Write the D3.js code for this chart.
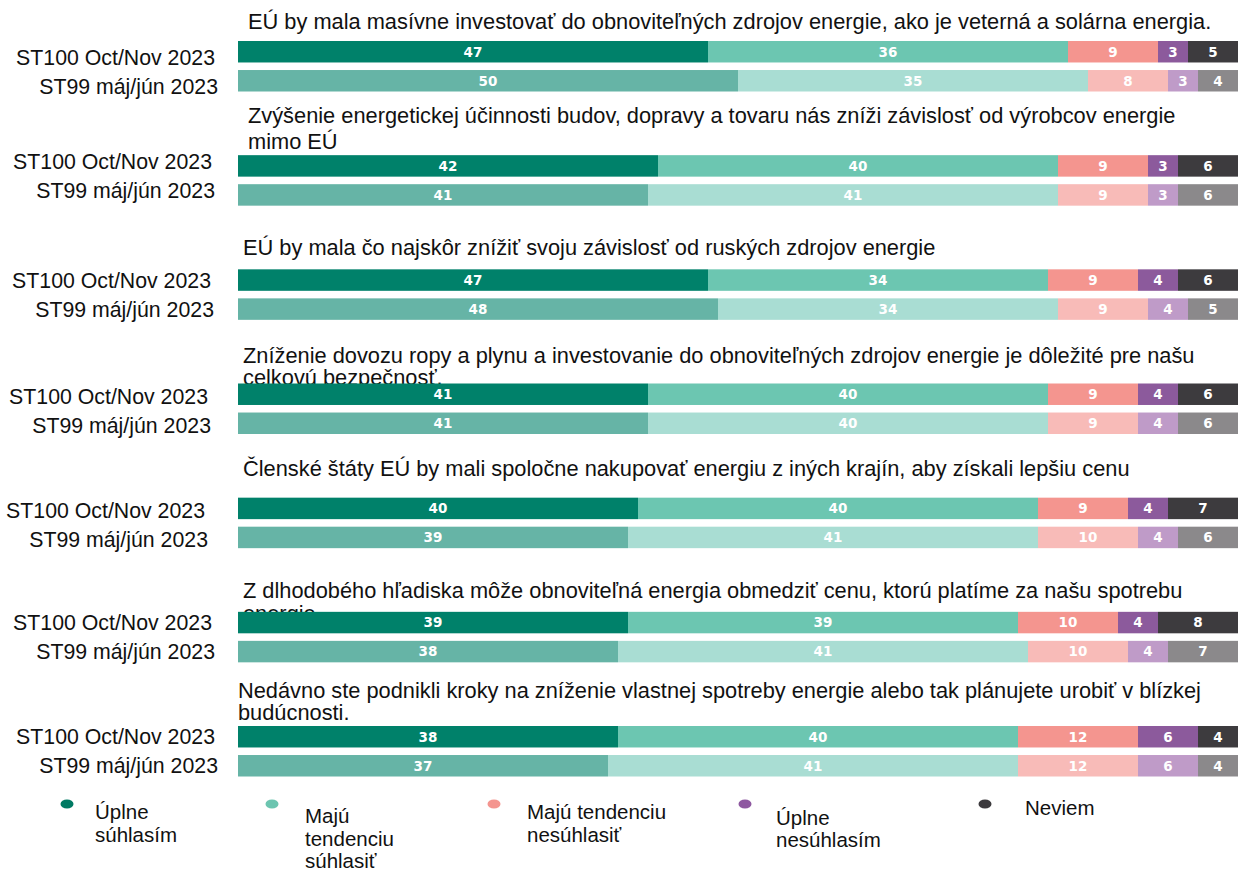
<!DOCTYPE html>
<html>
<head>
<meta charset="utf-8">
<script src="https://cdn.jsdelivr.net/npm/d3@7"></script>
<style>
  body { margin: 0; background: #fff; }
  svg text { font-family: "Liberation Sans", Arial, sans-serif; }
</style>
</head>
<body>
<svg id="chart" width="1239" height="872"></svg>
<script>
// questions (each title as its wrapped lines)
const questions = [
    ["EÚ by mala masívne investovať do obnoviteľných zdrojov energie, ako je veterná a solárna energia."],
    ["Zvýšenie energetickej účinnosti budov, dopravy a tovaru nás zníži závislosť od výrobcov energie", "mimo EÚ"],
    ["EÚ by mala čo najskôr znížiť svoju závislosť od ruských zdrojov energie"],
    ["Zníženie dovozu ropy a plynu a investovanie do obnoviteľných zdrojov energie je dôležité pre našu", "celkovú bezpečnosť."],
    ["Členské štáty EÚ by mali spoločne nakupovať energiu z iných krajín, aby získali lepšiu cenu"],
    ["Z dlhodobého hľadiska môže obnoviteľná energia obmedziť cenu, ktorú platíme za našu spotrebu", "energie."],
    ["Nedávno ste podnikli kroky na zníženie vlastnej spotreby energie alebo tak plánujete urobiť v blízkej", "budúcnosti."]
];

const waves = ["ST100 Oct/Nov 2023", "ST99 máj/jún 2023"];

const answers = ["Úplne súhlasím", "Majú tendenciu súhlasiť", "Majú tendenciu nesúhlasiť", "Úplne nesúhlasím", "Neviem"];

// values per question, in answer order
const st100 = [
    [47, 36, 9, 3, 5],
    [42, 40, 9, 3, 6],
    [47, 34, 9, 4, 6],
    [41, 40, 9, 4, 6],
    [40, 40, 9, 4, 7],
    [39, 39, 10, 4, 8],
    [38, 40, 12, 6, 4]
];
const st99 = [
    [50, 35, 8, 3, 4],
    [41, 41, 9, 3, 6],
    [48, 34, 9, 4, 5],
    [41, 40, 9, 4, 6],
    [39, 41, 10, 4, 6],
    [38, 41, 10, 4, 7],
    [37, 41, 12, 6, 4]
];

const legendLines = [
    ["Úplne", "súhlasím"],
    ["Majú", "tendenciu", "súhlasiť"],
    ["Majú tendenciu", "nesúhlasiť"],
    ["Úplne", "nesúhlasím"],
    ["Neviem"]
];

// styling
const colors = {
    "ST100 Oct/Nov 2023": ["#00816a", "#6cc6b1", "#f4958f", "#8c5a9c", "#3d3b3e"],
    "ST99 máj/jún 2023": ["#66b4a6", "#a9ddd3", "#f8bbb8", "#bf9bc8", "#8b898b"]
};
const legendColors = ["#007a63", "#6cc5b0", "#f4958f", "#8e58a0", "#3c3a3d"];

// small per-block nudges, the source image is a collage
const titleDx = [248, 248, 243, 243, 243, 243, 238];
const titleDy = [-12.5, -32.5, -14.5, -20.5, -21.5, -13.5, -28];
const titleLH = [22, 26, 22, 22, 22, 23, 22];
const labelDy = [6, -5, 0, 2, 2, 0, 0];
const labelDx = [215, 212, 211, 208, 205, 212, 215];

const svg = d3.select("#chart");

const x = d3.scaleLinear().domain([0, 100]).range([238, 1238]);

const yGroup = d3.scalePoint()
    .domain(d3.range(questions.length))
    .range([41, 726]);

const yWave = d3.scaleBand()
    .domain(waves)
    .range([0, 50.5])
    .paddingInner(0.26);

const rows = questions.map((q, i) => ({ i, title: q, series: [
    { wave: waves[0], values: st100[i] },
    { wave: waves[1], values: st99[i] }
]}));

const groups = svg.selectAll("g.block")
    .data(rows)
    .join("g")
    .attr("class", "block")
    .attr("transform", d => `translate(0,${yGroup(d.i)})`);

// titles
groups.append("text")
    .attr("x", d => titleDx[d.i])
    .attr("y", d => titleDy[d.i])
    .attr("font-size", 21.8)
    .attr("fill", "#111")
    .selectAll("tspan")
    .data(d => d.title.map((t, k) => ({ t, k, i: d.i })))
    .join("tspan")
    .attr("x", d => titleDx[d.i])
    .attr("dy", d => d.k === 0 ? 0 : titleLH[d.i])
    .text(d => d.t);

const bars = groups.selectAll("g.bar")
    .data(d => d.series.map(s => ({ ...s, i: d.i })))
    .join("g")
    .attr("class", "bar")
    .attr("transform", d => `translate(0,${yWave(d.wave)})`);

// wave labels on the left
bars.append("text")
    .attr("x", d => labelDx[d.i] + (d.wave === waves[1] ? 3 : 0))
    .attr("y", d => yWave.bandwidth() / 2 + labelDy[d.i])
    .attr("dy", "0.36em")
    .attr("text-anchor", "end")
    .attr("font-size", 21.3)
    .attr("fill", "#111")
    .text(d => d.wave);

const segs = bars.selectAll("g.seg")
    .data(d => {
        const stack = d3.cumsum(d.values);
        return d.values.map((v, k) => ({ v, k, x0: stack[k] - v, x1: stack[k], wave: d.wave }));
    })
    .join("g")
    .attr("class", "seg");

segs.append("rect")
    .attr("x", d => x(d.x0))
    .attr("width", d => x(d.x1) - x(d.x0))
    .attr("y", 0)
    .attr("height", yWave.bandwidth())
    .attr("fill", d => colors[d.wave][d.k]);

segs.append("text")
    .attr("x", d => (x(d.x0) + x(d.x1)) / 2)
    .attr("y", yWave.bandwidth() / 2)
    .attr("dy", "0.36em")
    .attr("text-anchor", "middle")
    .style("font-family", "'DejaVu Sans', Verdana, sans-serif")
    .attr("font-weight", "bold")
    .attr("font-size", 13.5)
    .attr("fill", "#fff")
    .text(d => d.v);

// legend
const legendX = d3.scalePoint().domain(answers).range([67, 985]);
const legendDx = [0, -24.5, -32, -10.5, 0];
const legendTextX = [28, 33, 33, 31, 40];
const legendTextY = [15, 19, 15, 21, 11];
const legendLH = [23, 22.5, 23, 22, 23];

const leg = svg.append("g")
    .selectAll("g")
    .data(answers.map((a, k) => ({ a, k })))
    .join("g")
    .attr("transform", d => `translate(${legendX(d.a) + legendDx[d.k]},804)`);

leg.append("ellipse")
    .attr("rx", 6.5)
    .attr("ry", 4.5)
    .attr("fill", d => legendColors[d.k]);

leg.append("text")
    .attr("x", d => legendTextX[d.k])
    .attr("y", d => legendTextY[d.k])
    .attr("font-size", 20.5)
    .attr("fill", "#111")
    .selectAll("tspan")
    .data(d => legendLines[d.k].map((t, j) => ({ t, j, k: d.k })))
    .join("tspan")
    .attr("x", d => legendTextX[d.k])
    .attr("dy", d => d.j === 0 ? 0 : legendLH[d.k])
    .text(d => d.t);
</script>
</body>
</html>
